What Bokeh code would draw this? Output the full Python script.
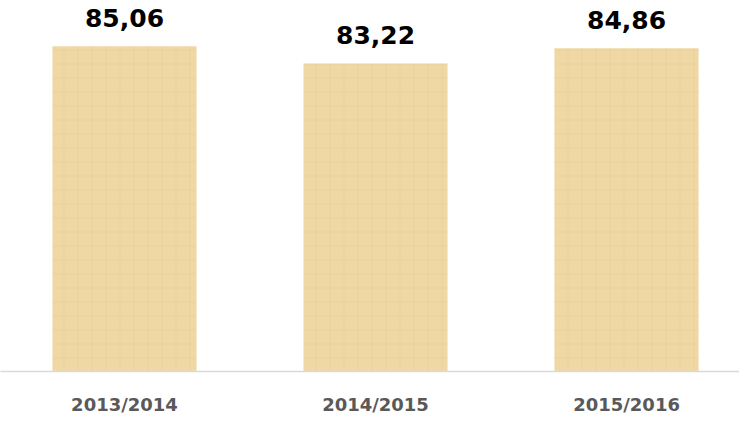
from bokeh.plotting import figure
from bokeh.models import ColumnDataSource, Range1d, FixedTicker
from bokeh.core.properties import value
from bokeh.embed import file_html
from bokeh.resources import INLINE

categories = ["2013/2014", "2014/2015", "2015/2016"]
values = [85.06, 83.22, 84.86]
value_labels = ["85,06", "83,22", "84,86"]

xs = list(range(len(categories)))
src = ColumnDataSource(dict(x=xs, top=values, label=value_labels))

p = figure(width=739, height=417, output_backend="svg", toolbar_location=None,
           x_range=Range1d(-0.494, 2.450), y_range=Range1d(50, 90),
           min_border_left=0, min_border_right=0, min_border_top=0, min_border_bottom=42)
p.outline_line_color = None
p.background_fill_color = "white"
p.border_fill_color = "white"
p.grid.visible = False
p.yaxis.visible = False

p.vbar(x="x", top="top", bottom=50, width=0.574, source=src,
       fill_color="#EFD8A4", line_color=None,
       hatch_pattern="+", hatch_color="#D9BE86", hatch_alpha=0.2, hatch_scale=14, hatch_weight=1)

p.text(x="x", y="top", text="label", source=src, y_offset=-28,
       text_align="center", text_baseline="alphabetic",
       text_font=value("DejaVu Sans"), text_font_style="bold",
       text_font_size="25px", text_color="black")

ax = p.xaxis[0]
ax.ticker = FixedTicker(ticks=xs)
ax.major_label_overrides = {i: c for i, c in zip(xs, categories)}
ax.major_tick_line_color = None
ax.minor_tick_line_color = None
ax.major_tick_out = 0
ax.major_tick_in = 0
ax.major_label_standoff = 22
ax.axis_line_color = "#D9D9D9"
ax.axis_line_width = 1.5
ax.major_label_text_font = "DejaVu Sans"
ax.major_label_text_font_style = "bold"
ax.major_label_text_font_size = "18px"
ax.major_label_text_color = "#595959"

open("out.html", "w").write(file_html(p, INLINE))
